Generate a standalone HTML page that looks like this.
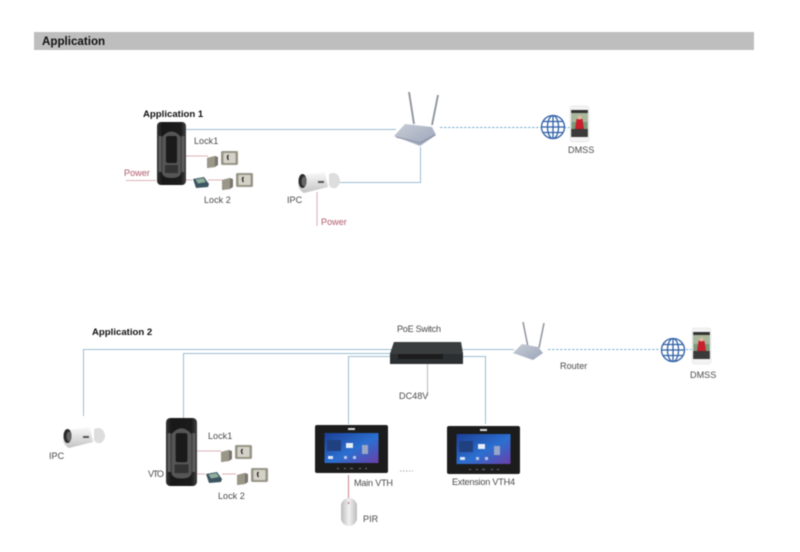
<!DOCTYPE html>
<html><head><meta charset="utf-8"><style>
html,body{margin:0;padding:0;background:#fff}
svg{display:block;position:absolute;left:0;top:0}
text{font-family:"Liberation Sans",sans-serif;font-size:9.1px;fill:#4a4a4a}
.b{font-weight:bold;fill:#111;font-size:9.6px}
.p{fill:#b0586a}
.s{filter:blur(.45px)}
</style></head><body>
<svg width="800" height="552" viewBox="0 0 800 552" xmlns="http://www.w3.org/2000/svg">
<defs>
<linearGradient id="vg" x1="0" x2="1" y1="0" y2="0"><stop offset="0" stop-color="#333"/><stop offset=".18" stop-color="#181818"/><stop offset=".82" stop-color="#1c1c1c"/><stop offset="1" stop-color="#444"/></linearGradient>
<linearGradient id="sc" x1="0" x2="1" y1="0" y2="1"><stop offset="0" stop-color="#1b3f97"/><stop offset=".55" stop-color="#2c6fd0"/><stop offset="1" stop-color="#6a3fa8"/></linearGradient>
<linearGradient id="cam" x1="0" x2="0" y1="0" y2="1"><stop offset="0" stop-color="#fafafa"/><stop offset="1" stop-color="#c4c4c4"/></linearGradient>
<linearGradient id="pir" x1="0" x2="1" y1="0" y2="0"><stop offset="0" stop-color="#bbb"/><stop offset=".5" stop-color="#f2f2f2"/><stop offset="1" stop-color="#bbb"/></linearGradient>
<linearGradient id="rt" x1="0" x2="1" y1="0" y2="1"><stop offset="0" stop-color="#c8ced8"/><stop offset="1" stop-color="#9aa4b8"/></linearGradient>
<g id="vto">
<rect x="0" y="0" width="29" height="63" rx="4" fill="url(#vg)"/>
<path d="M5 15Q14.500 4 24 15V50Q24 56 14.500 56T5 50Z" fill="#555"/>
<rect x="9" y="14" width="11" height="27" rx="2" fill="#1a1a1a"/>
<rect x="1.500" y="14" width="3" height="36" fill="#5c5c5c"/>
<rect x="24.500" y="14" width="3" height="36" fill="#5c5c5c"/>
<rect x="8" y="43" width="13" height="8" fill="#333"/>
</g>
<g id="lock">
<path d="M0 1l8-2 3 1v8l-3 2-8 1z" fill="#77756c"/>
<path d="M0 1l8-2v11l-8 1z" fill="#9a9688"/>
<rect x="14" y="-6" width="17" height="14" rx="1.500" fill="#989688"/>
<rect x="16.500" y="-4" width="12" height="10" rx="1" fill="#d4d2c8"/>
<path d="M21.500 -2q-2 2 0 5" stroke="#222" stroke-width="1.300" fill="none"/>
</g>
<g id="ctl">
<path d="M1 2l11-2 5 7-1 3-12 1z" fill="#3c5560"/>
<path d="M3.500 2.500l8-1.500 2.500 4-8 1.500z" fill="#8fae9e"/>
</g>
<g id="camera">
<path d="M3 3l24-3 3 15-24 6q-6-3-6-10z" fill="url(#cam)"/>
<ellipse cx="4.500" cy="9" rx="4" ry="7" fill="#2a2a2a"/>
<ellipse cx="6" cy="9.500" rx="2.500" ry="5" fill="#666"/>
<path d="M31 2q7-3 10 3t-3 11q-5 1-7-3z" fill="#ddd"/>
<rect x="20" y="9" width="6" height="2" fill="#555"/>
</g>
<g id="phone">
<rect x="0" y="0" width="19" height="36" rx="2.500" fill="#f3f3f3" stroke="#ddd" stroke-width=".5"/>
<rect x="1.200" y="4" width="16.600" height="27" fill="#7c9a7a"/>
<rect x="1.200" y="4" width="16.600" height="3" fill="#333"/>
<rect x="1.200" y="7" width="16.600" height="9" fill="#a9b89c"/>
<path d="M6.500 13h6l1.500 10h-9z" fill="#c8202c"/>
<circle cx="9.500" cy="11.500" r="2" fill="#e0b8a0"/>
<rect x="1.200" y="23" width="16.600" height="8" fill="#3a3a3a"/>
</g>
<g id="globe" fill="none" stroke="#2f5fa5" stroke-width="1.300">
<circle r="11.500"/><ellipse rx="5.500" ry="11.500"/><path d="M-11.500 0h23M-10 -5.500h20M-10 5.500h20M0 -11.500v23"/>
</g>
<g id="vth">
<rect width="73" height="48" rx="2" fill="#1c1c1c"/>
<rect x="9.500" y="8" width="54" height="30" fill="url(#sc)"/>
<rect x="12" y="15" width="14" height="11" fill="#20407f"/>
<rect x="31" y="18" width="7" height="5" fill="#e8eef8"/>
<rect x="47" y="20" width="6" height="9" fill="#9aa6c8"/>
<rect x="13" y="31" width="5" height="3" fill="#dfe7f5"/>
<rect x="29" y="31" width="3" height="3" fill="#b8c8e8"/>
<rect x="38" y="31" width="3" height="3" fill="#b8c8e8"/>
<rect x="33" y="3" width="7" height="2" fill="#ddd"/>
<path d="M22 43.500h2M29 43.500h2M35 43.500h3M44 43.500h2M50 43.500h2" stroke="#777" stroke-width="1"/>
</g>
</defs>
<g class="s">
<rect x="34" y="32" width="720" height="18" fill="#bebebe"/>
<text x="42" y="45" style="font-size:11.600px;font-weight:bold;fill:#111">Application</text>

<!-- Application 1 -->
<g fill="none" stroke="#9cbccf" stroke-width="1">
<path d="M186 129.500H396"/>
<path d="M337 182.500H420.500V147"/>
</g>
<path d="M440 127.500H542M564 127.500H570" stroke="#7fb3d2" stroke-width="1" stroke-dasharray="2.500 1.500" fill="none"/>
<g fill="none" stroke="#ddb2ba" stroke-width="1.100">
<path d="M186 156H208M186 180H192M208 180H222M126 180.500H156M317 192V226"/>
</g>
<text x="143" y="117" class="b">Application 1</text>
<use href="#vto" x="157" y="122"/>
<use href="#lock" x="207" y="157"/>
<use href="#ctl" x="192" y="177"/>
<use href="#lock" x="222" y="179"/>
<text x="194" y="144">Lock1</text>
<text x="204" y="203">Lock 2</text>
<text x="124" y="176" class="p">Power</text>
<text x="321" y="225" class="p">Power</text>
<text x="287" y="203">IPC</text>
<use href="#camera" x="298" y="172"/>
<path d="M409 92L414 124M438 95L432 125" stroke="#8f949c" stroke-width="1.900" fill="none"/>
<path d="M394 136L405 124L432 127L436 135L420 146Z" fill="url(#rt)"/>
<path d="M396 137L420 143L435 135" stroke="#8a90a2" stroke-width="1" fill="none"/>
<use href="#globe" x="553" y="127"/>
<use href="#phone" x="570" y="106"/>
<text x="568" y="153">DMSS</text>

<!-- Application 2 -->
<text x="92" y="335" class="b">Application 2</text>
<g fill="none" stroke="#9cbccf" stroke-width="1">
<path d="M83.500 416V349.500H392"/>
<path d="M183.500 418V353.500H392"/>
<path d="M348.500 424V356.500H392"/>
<path d="M462 349.500H514"/>
<path d="M462 356.500H485.500V424"/>
</g>
<path d="M427.500 364V396" stroke="#bbb" stroke-width="1" fill="none"/>
<path d="M548 349.500H660M686 349.500H692" stroke="#7fb3d2" stroke-width="1" stroke-dasharray="2.500 1.500" fill="none"/>
<g fill="none" stroke="#ddb2ba" stroke-width="1.100">
<path d="M197 451H221M197 474H205M222 474H236"/>
</g>
<path d="M348.500 475V505" stroke="#c98b96" stroke-width="1.100" fill="none"/>
<path d="M394 342H461L463 354V364H390V354Z" fill="#2c2f31"/>
<path d="M394 342H461L463 354H390Z" fill="#3a3d3e"/>
<rect x="398" y="354" width="45" height="5" fill="#1c1c1c"/>
<text x="397" y="332" textLength="44">PoE Switch</text>
<text x="399" y="399">DC48V</text>
<path d="M523 322L528 347M544 323L539 348" stroke="#8f949c" stroke-width="1.500" fill="none"/>
<path d="M513 353L522 344L538 347L543 353L533 360Z" fill="url(#rt)"/>
<text x="560" y="369">Router</text>
<use href="#globe" x="673" y="350"/>
<use href="#phone" x="692" y="328"/>
<text x="690" y="378">DMSS</text>
<use href="#camera" x="63" y="427"/>
<text x="49" y="459">IPC</text>
<use href="#vto" transform="translate(166 418) scale(1.070 1.080)"/>
<use href="#lock" x="221" y="451"/>
<use href="#ctl" x="205" y="472"/>
<use href="#lock" x="237" y="474"/>
<text x="208" y="439">Lock1</text>
<text x="148" y="477" textLength="16">VTO</text>
<text x="218" y="499">Lock 2</text>
<use href="#vth" x="315" y="425"/>
<use href="#vth" x="447" y="426"/>
<path d="M400 471H413" stroke="#aaa" stroke-width="1" stroke-dasharray="1.500 1.500"/>
<text x="354" y="486" textLength="39">Main VTH</text>
<text x="452" y="485" textLength="63">Extension VTH4</text>
<rect x="341" y="498" width="16" height="28" rx="8" fill="url(#pir)"/>
<circle cx="348.500" cy="503" r="1" fill="#c98b96"/>
<text x="363" y="522">PIR</text>
</g>
</svg>
</body></html>
